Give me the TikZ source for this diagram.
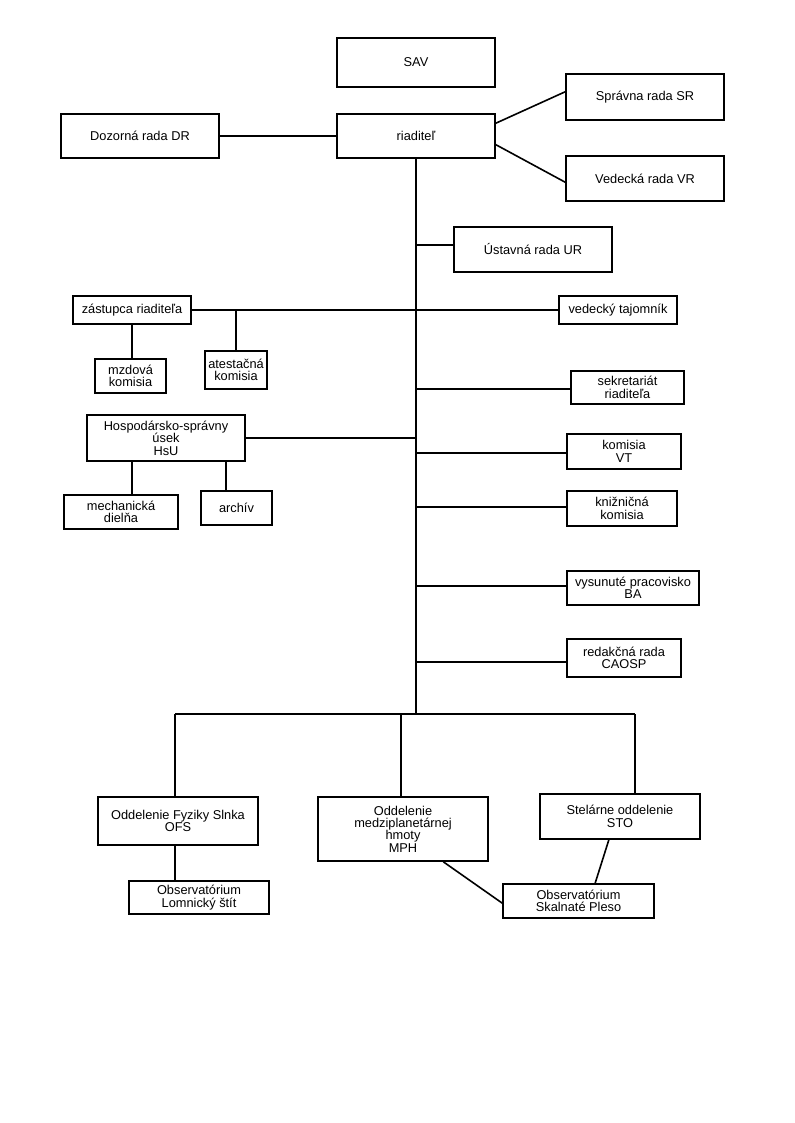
\documentclass[tikz,border=0pt]{standalone}
\usepackage{fontspec}
\setmainfont{Liberation Sans}
\usetikzlibrary{calc}
\tikzset{
  box/.style={draw=black, line width=1.2pt, fill=white, inner sep=0pt, align=center,
    font=\fontsize{9.6}{9.3}\selectfont},
  link/.style={line width=1.2pt, draw=black}
}
\newcommand{\orgbox}[6]{\node[box, minimum width={(#4-#2)*0.75pt}, minimum height={(#5-#3)*0.75pt}] (#1) at ({(#2+#4)/2},{(#3+#5)/2}) {#6};}
\begin{document}
\begin{tikzpicture}[x=0.75pt,y=-0.75pt]
\useasboundingbox[fill=white] (0,0) rectangle (794,1123);
% coordinates on the trunk
\coordinate (trunkend) at (416,714);
\coordinate (tUR) at (416,245);
\coordinate (tSEK) at (416,389);
\coordinate (tKVT) at (416,453);
\coordinate (tKN) at (416,507);
\coordinate (tVP) at (416,586);
\coordinate (tRED) at (416,662);
\coordinate (bL) at (175,714);
\coordinate (bM) at (401,714);
\coordinate (bR) at (635,714);

% links drawn first
\draw[link] (416,159) -- (trunkend);
\draw[link] (bL) -- (bR);

\orgbox{sav}{337}{38}{495}{87}{SAV}
\orgbox{riad}{337}{114}{495}{158}{riaditeľ}
\orgbox{doz}{61}{114}{219}{158}{Dozorná rada DR}
\orgbox{sr}{566}{74}{724}{120}{Správna rada SR}
\orgbox{vr}{566}{156}{724}{201}{Vedecká rada VR}
\orgbox{ur}{454}{227}{612}{272}{Ústavná rada UR}
\orgbox{zast}{73}{296}{191}{324}{zástupca riaditeľa}
\orgbox{vtaj}{559}{296}{677}{324}{vedecký tajomník}
\orgbox{mzd}{95}{359}{166}{393}{mzdová\\komisia}
\orgbox{atest}{205}{351}{267}{389}{atestačná\\komisia}
\orgbox{sek}{571}{371}{684}{404}{sekretariát\\riaditeľa}
\orgbox{hsu}{87}{415}{245}{461}{Hospodársko-správny\\úsek\\HsU}
\orgbox{kvt}{567}{434}{681}{469}{komisia\\VT}
\orgbox{kniz}{567}{491}{677}{526}{knižničná\\komisia}
\orgbox{mech}{64}{495}{178}{529}{mechanická\\dielňa}
\orgbox{arch}{201}{491}{272}{525}{archív}
\orgbox{vysp}{567}{571}{699}{605}{vysunuté pracovisko\\BA}
\orgbox{red}{567}{639}{681}{677}{redakčná rada\\CAOSP}
\orgbox{ofs}{98}{797}{258}{845}{Oddelenie Fyziky Slnka\\OFS}
\orgbox{mph}{318}{797}{488}{861}{Oddelenie\\medziplanetárnej\\hmoty\\MPH}
\orgbox{sto}{540}{794}{700}{839}{Stelárne oddelenie\\STO}
\orgbox{lom}{129}{881}{269}{914}{Observatórium\\Lomnický štít}
\orgbox{skp}{503}{884}{654}{918}{Observatórium\\Skalnaté Pleso}

% connectors
\draw[link] (doz.east) -- (riad.west);
\draw[link] ($(riad.north east)!0.22!(riad.south east)$) -- ($(sr.north west)!0.39!(sr.south west)$);
\draw[link] ($(riad.north east)!0.69!(riad.south east)$) -- ($(vr.north west)!0.58!(vr.south west)$);
\draw[link] (tUR) -- (tUR -| ur.west);
\draw[link] (zast.east) -- (vtaj.west);
\draw[link] (zast.south) -- (zast.south |- mzd.north);
\draw[link] (atest.north) -- (atest.north |- zast.east);
\draw[link] (tSEK) -- (tSEK -| sek.west);
\draw[link] (hsu.east) -- (hsu.east -| trunkend);
\draw[link] ($(hsu.south west)+(46,0)$) coordinate (hm) -- (hm |- mech.north);
\draw[link] ($(hsu.south west)+(140,0)$) coordinate (ha) -- (ha |- arch.north);
\draw[link] (tKVT) -- (tKVT -| kvt.west);
\draw[link] (tKN) -- (tKN -| kniz.west);
\draw[link] (tVP) -- (tVP -| vysp.west);
\draw[link] (tRED) -- (tRED -| red.west);
\draw[link] (bL) -- (bL |- ofs.north);
\draw[link] (bM) -- (bM |- mph.north);
\draw[link] (bR) -- (bR |- sto.north);
\draw[link] (bL |- ofs.south) -- (bL |- lom.north);
\draw[link] ($(mph.south west)!0.735!(mph.south east)$) -- ($(skp.north west)!0.56!(skp.south west)$);
\draw[link] ($(sto.south west)!0.431!(sto.south east)$) -- ($(skp.north west)!0.609!(skp.north east)$);
\end{tikzpicture}
\end{document}
